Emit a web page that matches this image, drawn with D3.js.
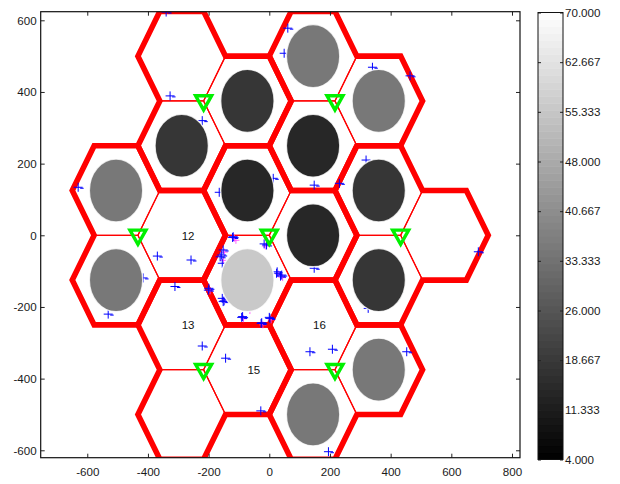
<!DOCTYPE html>
<html><head><meta charset="utf-8">
<script src="https://cdn.jsdelivr.net/npm/d3@7"></script>
<style>
body{margin:0;background:#fff;}
svg{display:block;font-family:"Liberation Sans",Arial,sans-serif;}
</style></head><body>
<svg id="chart" width="620" height="484"></svg>
<script>
// Base-station sites (metres)
const siteX = [0, -433, -216.5, 216.5, 433, -216.5, 216.5];
const siteY = [0, 0, 375, 375, 0, -375, -375];
// Orientation (degrees) of the three sector cells around each site
const sectorAngles = [0, 120, 240];
// Load per cell, site by site in sector order (null = nothing drawn)
const cellValues = [
  14, 14, 56,
  null, 35, 35,
  18, null, 18,
  35, 35, 14,
  null, 18, 18,
  null, null, null,
  35, null, 35
];
// Cell ids written inside some cells
const cellLabels = [
  "", "", "",
  "12", "", "",
  "", "", "",
  "", "", "",
  "", "", "",
  "15", "13", "",
  "", "16", ""
];
// User positions
const userX = [-340, -327, -221, 61, 49, 340, 464, 319, 13, 148, 231, 148, 689, 326,
  -630, -165, -369, -258, -311, -416, -531, -221, -144, -28, 134, 208, 453, 195,
  -119, -121, -17, -9, -152, -157, -162, -155, 26, 24, 37, 41, -199, -201,
  -155, -152, -149, -91, -88, -27, -25, 0, 2];
const userY = [623, 389, 320, 578, 508, 469, 445, 210, 159, 140, 145, -92, -46, -204,
  134, 120, -58, -69, -143, -119, -220, -309, -343, -490, -325, -318, -325, -604,
  -4, -6, -24, -27, -41, -55, -60, -78, -102, -106, -114, -111, -148, -153,
  -176, -185, -183, -229, -227, -246, -244, -229, -232];
// Previous positions of the clustered users
const prevX = [-115, -110, -13, -148, -151, 30, 44, -195, -146, -64, -85, -21, 6];
const prevY = [-8, -14, -30, -47, -70, -108, -118, -155, -180, -210, -233, -250, -236];

const xTickValues = [-600, -400, -200, 0, 200, 400, 600, 800];
const yTickValues = [-600, -400, -200, 0, 200, 400, 600];
const cbTickValues = [4, 11.333, 18.667, 26, 33.333, 40.667, 48, 55.333, 62.667, 70];
const cbDomain = [4, 70];

const svg = d3.select("#chart");
const plot = {left: 40.7, right: 520, top: 11.7, bottom: 457.7};
const x = d3.scaleLinear().domain([-753.5, 826.4]).range([plot.left, plot.right]);
const y = d3.scaleLinear().domain([-620.7, 624]).range([plot.bottom, plot.top]);
const gray = d3.scaleLinear().domain(cbDomain).range(["#000000", "#ffffff"]).clamp(true);

const R = 250 / Math.sqrt(3);       // hexagon circumradius
const loadRadius = 88;              // radius of the load disc

svg.append("clipPath").attr("id", "plotClip").append("rect")
  .attr("x", plot.left).attr("y", plot.top)
  .attr("width", plot.right - plot.left).attr("height", plot.bottom - plot.top);

// Build the cells
const cells = [];
siteX.forEach((sx, s) => {
  sectorAngles.forEach((a, k) => {
    const t = a * Math.PI / 180;
    const cx = sx + R * Math.cos(t), cy = siteY[s] + R * Math.sin(t);
    const verts = d3.range(6).map(i => [cx + R * Math.cos(i * Math.PI / 3), cy + R * Math.sin(i * Math.PI / 3)]);
    // index of the vertex lying on the site
    let kv = 0, best = Infinity;
    verts.forEach((v, i) => { const d = Math.hypot(v[0] - sx, v[1] - siteY[s]); if (d < best) { best = d; kv = i; } });
    const idx = s * 3 + k;
    cells.push({site: s, cx, cy, verts, kv, value: cellValues[idx], label: cellLabels[idx]});
  });
});

const g = svg.append("g").attr("clip-path", "url(#plotClip)");
const line = d3.line().x(d => x(d[0])).y(d => y(d[1]));

// thin sector borders inside each site
g.append("g").selectAll("path").data(cells).join("path")
  .attr("d", c => line([c.verts[(c.kv + 5) % 6], c.verts[c.kv], c.verts[(c.kv + 1) % 6]]))
  .attr("fill", "none").attr("stroke", "#ff0000").attr("stroke-width", 1.2);

// thick outline of each three-sector site
const outlines = siteX.map((sx, s) => {
  const pts = [];
  cells.filter(c => c.site === s).forEach((c, j) => {
    for (let i = 1; i <= 5; i++) {
      if (j > 0 && i === 1) continue;
      pts.push(c.verts[(c.kv + i) % 6]);
    }
  });
  return pts;
});
g.append("g").selectAll("path").data(outlines).join("path")
  .attr("d", p => line(p) + "Z")
  .attr("fill", "none").attr("stroke", "#ff0000").attr("stroke-width", 5.6)
  .attr("stroke-linejoin", "miter");

// previous positions (magenta)
g.append("g").selectAll("path").data(prevX.map((v, i) => [v, prevY[i]])).join("path")
  .attr("transform", d => `translate(${x(d[0])},${y(d[1])})`)
  .attr("d", "M-3.5,0H3.5M0,-3.5V3.5")
  .attr("stroke", "#ff40ff").attr("stroke-width", 1).attr("stroke-opacity", 0.8).attr("fill", "none");

// users (blue crosses)
g.append("g").selectAll("path").data(userX.map((v, i) => [v, userY[i]])).join("path")
  .attr("transform", d => `translate(${x(d[0])},${y(d[1])})`)
  .attr("d", "M-4.5,0H4.5M0,-4.5V4.5M2,1H5.5")
  .attr("stroke", "#0000ff").attr("stroke-width", 1).attr("fill", "none");

// load discs
g.append("g").selectAll("ellipse").data(cells.filter(c => c.value != null)).join("ellipse")
  .attr("cx", c => x(c.cx)).attr("cy", c => y(c.cy))
  .attr("rx", x(loadRadius) - x(0)).attr("ry", y(0) - y(loadRadius))
  .attr("fill", c => gray(c.value))
  .attr("stroke", "#ffffff").attr("stroke-width", 1.4).attr("stroke-opacity", 0.8);

// cell ids
g.append("g").selectAll("text").data(cells.filter(c => c.label)).join("text")
  .attr("x", c => x(c.cx)).attr("y", c => y(c.cy)).attr("dy", "0.4em")
  .attr("font-size", 11.5).attr("fill", "#111").text(c => c.label);

// base stations
g.append("g").selectAll("path").data(siteX.map((v, i) => [v, siteY[i]])).join("path")
  .attr("transform", d => `translate(${x(d[0])},${y(d[1])})`)
  .attr("d", "M-8,-5.2L8,-5.2L0,9Z")
  .attr("fill", "none").attr("stroke", "#00f000").attr("stroke-width", 3.4)
  .attr("stroke-linejoin", "miter");

// axes
const fontSize = 11.6, txtColor = "#1a1a1a";
const plainInt = d => String(d);   // hyphen-minus, as in the printed figure
function styleAxis(sel) {
  sel.select(".domain").remove();
  sel.selectAll(".tick line").attr("stroke", "#222");
  sel.selectAll(".tick text").attr("font-size", fontSize).attr("fill", txtColor).attr("font-family", "Liberation Sans, Arial, sans-serif");
}
svg.append("g").attr("transform", `translate(0,${plot.bottom})`)
  .call(d3.axisBottom(x).tickValues(xTickValues).tickFormat(plainInt).tickSizeInner(-4).tickSizeOuter(0).tickPadding(10))
  .call(styleAxis);
svg.append("g").attr("transform", `translate(0,${plot.top})`)
  .call(d3.axisTop(x).tickValues(xTickValues).tickSizeInner(-4).tickSizeOuter(0).tickFormat(""))
  .call(styleAxis);
svg.append("g").attr("transform", `translate(${plot.left},0)`)
  .call(d3.axisLeft(y).tickValues(yTickValues).tickFormat(plainInt).tickSizeInner(-4).tickSizeOuter(0).tickPadding(4))
  .call(styleAxis);
svg.append("g").attr("transform", `translate(${plot.right},0)`)
  .call(d3.axisRight(y).tickValues(yTickValues).tickSizeInner(-4).tickSizeOuter(0).tickFormat(""))
  .call(styleAxis);
svg.append("rect").attr("x", plot.left).attr("y", plot.top)
  .attr("width", plot.right - plot.left).attr("height", plot.bottom - plot.top)
  .attr("fill", "none").attr("stroke", "#111").attr("stroke-width", 1.2);

// colour bar
const cb = {left: 538, right: 563, top: 12.5, bottom: 459.5};
const cbY = d3.scaleLinear().domain(cbDomain).range([cb.bottom, cb.top]);
const nBands = 64;
const bandEdges = d3.range(nBands + 1).map(i => cbDomain[0] + (cbDomain[1] - cbDomain[0]) * i / nBands);
svg.append("g").selectAll("rect").data(d3.range(nBands)).join("rect")
  .attr("x", cb.left).attr("width", cb.right - cb.left)
  .attr("y", i => cbY(bandEdges[i + 1])).attr("height", i => cbY(bandEdges[i]) - cbY(bandEdges[i + 1]) + 0.5)
  .attr("fill", i => gray((bandEdges[i] + bandEdges[i + 1]) / 2));
svg.append("g").attr("transform", `translate(${cb.right},0)`)
  .call(d3.axisRight(cbY).tickValues(cbTickValues).tickFormat(d3.format(".3f")).tickSizeInner(-3).tickSizeOuter(0).tickPadding(2))
  .call(styleAxis);
svg.append("g").attr("transform", `translate(${cb.left},0)`)
  .call(d3.axisLeft(cbY).tickValues(cbTickValues).tickSizeInner(-3).tickSizeOuter(0).tickFormat(""))
  .call(styleAxis);
svg.append("rect").attr("x", cb.left).attr("y", cb.top)
  .attr("width", cb.right - cb.left).attr("height", cb.bottom - cb.top)
  .attr("fill", "none").attr("stroke", "#111").attr("stroke-width", 1);
</script>
</body></html>
